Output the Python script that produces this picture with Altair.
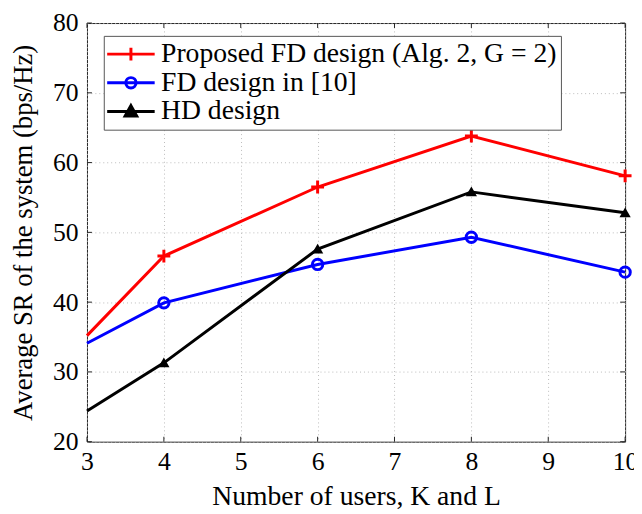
import altair as alt
import pandas as pd

# ---- data ----
x_vals = [3, 4, 6, 8, 10]
proposed = [35.2, 46.6, 56.5, 63.8, 58.1]
fd10 = [34.1, 39.9, 45.4, 49.3, 44.3]
hd = [24.4, 31.3, 47.6, 55.8, 52.8]
series_names = ["Proposed FD design (Alg. 2, G = 2)", "FD design in [10]", "HD design"]
series_colors = ["#ff0000", "#0000ff", "#000000"]
x_ticks = [3, 4, 5, 6, 7, 8, 9, 10]
y_ticks = [20, 30, 40, 50, 60, 70, 80]
marker_from = 4  # markers drawn from this x on

rows = []
for name, vals in zip(series_names, [proposed, fd10, hd]):
    for x, y in zip(x_vals, vals):
        rows.append({"x": x, "y": y, "series": name})
df = pd.DataFrame(rows)
xt = pd.DataFrame({"x": x_ticks})
yt = pd.DataFrame({"y": y_ticks})

W, H = 545, 424
FONT = "Liberation Serif"
TICK = 5
LW = 3

xs = alt.Scale(domain=[3, 10], nice=False, zero=False)
ys = alt.Scale(domain=[20, 80], nice=False, zero=False)

x_axis = alt.Axis(values=x_ticks, title="Number of users, K and L", grid=True, ticks=False,
                  domain=False, labelFont=FONT, titleFont=FONT, labelFontSize=26,
                  titleFontSize=28, labelColor="black", titleColor="black",
                  titleFontWeight="normal", labelPadding=7, titlePadding=9,
                  gridDash=[1, 3], gridColor="#bbbbbb", labelFlush=False)
y_axis = alt.Axis(values=y_ticks, title="Average SR of the system (bps/Hz)", grid=True,
                  ticks=False, domain=False, labelFont=FONT, titleFont=FONT,
                  labelFontSize=26, titleFontSize=27, labelColor="black",
                  titleColor="black", titleFontWeight="normal", labelPadding=9,
                  titlePadding=15, gridDash=[1, 3], gridColor="#bbbbbb", labelFlush=False)

X = alt.X("x:Q", scale=xs, axis=x_axis)
Y = alt.Y("y:Q", scale=ys, axis=y_axis)

base = alt.Chart(df)

line_layers = [
    base.transform_filter(alt.datum.series == name)
    .mark_line(strokeWidth=LW, color=col)
    .encode(x=X, y=Y)
    for name, col in zip(series_names, series_colors)
]

plus_path = "M-1,0H1M0,-1V1"
tri_path = "M0,-0.9L0.95,0.75L-0.95,0.75Z"

pts_red = base.transform_filter(
    (alt.datum.series == series_names[0]) & (alt.datum.x >= marker_from)
).mark_point(shape=plus_path, size=169, strokeWidth=LW, color=series_colors[0],
             filled=False, opacity=1).encode(x=X, y=Y)
pts_blue = base.transform_filter(
    (alt.datum.series == series_names[1]) & (alt.datum.x >= marker_from)
).mark_point(shape="circle", size=110, strokeWidth=LW, color=series_colors[1],
             filled=False, opacity=1).encode(x=X, y=Y)
pts_black = base.transform_filter(
    (alt.datum.series == series_names[2]) & (alt.datum.x >= marker_from)
).mark_point(shape=tri_path, size=144, strokeWidth=1, color=series_colors[2],
             filled=True, opacity=1).encode(x=X, y=Y)

# inward ticks on all four sides
tick_style = dict(color="#222222", strokeWidth=1)
xb = alt.Chart(xt).mark_rule(**tick_style).encode(
    x=X, y=alt.value(H), y2=alt.value(H - TICK))
xtop = alt.Chart(xt).mark_rule(**tick_style).encode(
    x=X, y=alt.value(0), y2=alt.value(TICK))
yl = alt.Chart(yt).mark_rule(**tick_style).encode(
    y=Y, x=alt.value(0), x2=alt.value(TICK))
yr = alt.Chart(yt).mark_rule(**tick_style).encode(
    y=Y, x=alt.value(W), x2=alt.value(W - TICK))

# legend carrier (draws nothing visible, only the legend)
legend_paths = [
    "M-1.85,0H1.85M0,-0.5V0.5",
    "M-1.85,0H1.85M0.4,0A0.4,0.4 0 1,1 -0.4,0A0.4,0.4 0 1,1 0.4,0",
    "M-1.85,0H1.85M0,-0.45L0.45,0.35L-0.45,0.35Z",
]
legend_layer = base.mark_point(
    filled=False, opacity=1, strokeWidth=LW, size=0
).encode(
    x=X, y=Y,
    stroke=alt.Stroke("series:N", scale=alt.Scale(domain=series_names, range=series_colors),
                      legend=alt.Legend(title=None)),
    fill=alt.Fill("series:N", scale=alt.Scale(domain=series_names,
                                               range=["transparent", "transparent", "#000000"]),
                  legend=alt.Legend(title=None)),
    shape=alt.Shape("series:N", scale=alt.Scale(domain=series_names, range=legend_paths),
                    legend=alt.Legend(title=None)),
)

chart = alt.layer(
    *line_layers, pts_red, pts_blue, pts_black, xb, xtop, yl, yr, legend_layer
).properties(
    width=W, height=H,
    padding={"left": 80, "top": 12, "right": 9, "bottom": 70},
    autosize=alt.AutoSizeParams(type="none"),
).configure_view(
    stroke="#222222", strokeWidth=1
).configure_legend(
    orient="none", legendX=17, legendY=13, padding=4, symbolSize=676,
    symbolStrokeWidth=LW, labelFont=FONT, labelFontSize=28, labelColor="black",
    labelLimit=1000, labelOffset=16, symbolOffset=9, rowPadding=-8,
    strokeColor="#555555", fillColor="white", cornerRadius=0,
)

chart.save("out.html", embed_options={"renderer": "svg", "actions": False})
